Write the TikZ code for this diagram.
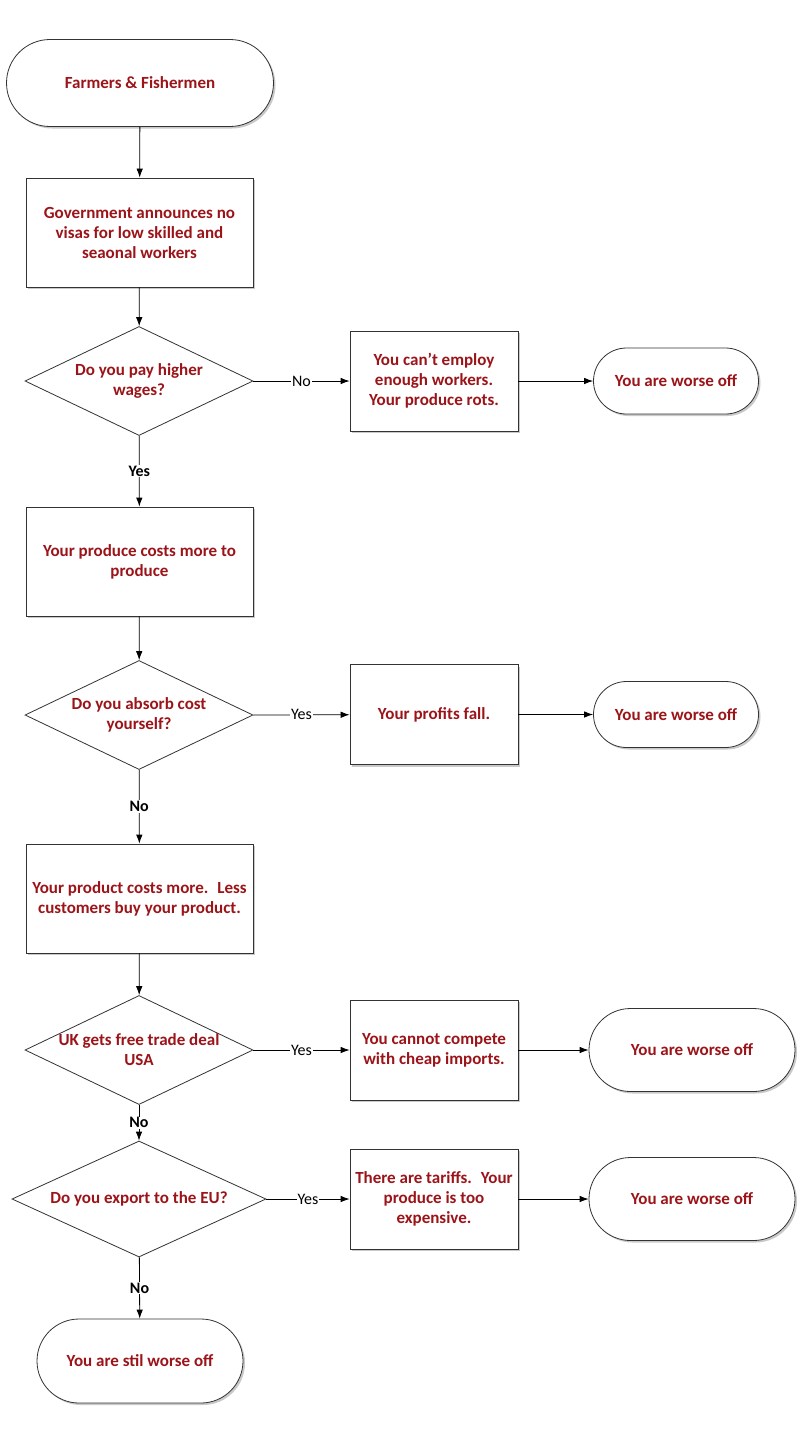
\documentclass[tikz,border=0pt]{standalone}
\usepackage{fontspec}
\setmainfont{Carlito}
\usetikzlibrary{shapes.geometric,shapes.misc,shadows,arrows.meta}
\definecolor{txtred}{RGB}{155,20,25}

\begin{document}
\begin{tikzpicture}[x=1pt, y=-1pt, >={Latex[length=9pt,width=6.5pt]},
    txt/.style={text=txtred, font=\fontsize{17}{20}\selectfont\bfseries, align=center},
    shade/.style={drop shadow={shadow xshift=2pt, shadow yshift=-2pt, opacity=0.35, fill=black!60}},
    boxstep/.style={draw=black!80, line width=0.8pt, fill=white, txt, shade,
        minimum width=227, minimum height=109, inner sep=2pt},
    sidebox/.style={boxstep, minimum width=168, minimum height=100},
    term/.style={rounded rectangle, draw=black!80, line width=0.8pt, fill=white, txt, shade, inner sep=2pt},
    decide/.style={diamond, draw=black!80, line width=0.8pt, fill=white, inner sep=0pt,
        minimum width=228, minimum height=109},
    lbl/.style={fill=white, inner sep=1pt, font=\fontsize{16}{18}\selectfont},
    vlbl/.style={lbl, font=\fontsize{16}{18}\selectfont\bfseries},
    link/.style={->, line width=0.8pt}]

    \path[fill=white] (0,0) rectangle (806,1448);
    \useasboundingbox (0,0) rectangle (806,1448);

    % main column
    \node[term, minimum width=271, minimum height=87] (start) at (140,83) {Farmers \& Fishermen};
    \node[boxstep] (visas) at (139.5,232.5) {Government announces no\\visas for low skilled and\\seaonal workers};
    \node[decide, label={[txt]center:Do you pay higher\\wages?}] (wages) at (139,381) {};
    \node[boxstep] (costs) at (139.5,561.5) {Your produce costs more to\\produce};
    \node[decide, label={[txt]center:Do you absorb cost\\yourself?}] (absorb) at (139,715) {};
    \node[boxstep] (fewer) at (139.5,898.5) {Your product costs more.~ Less\\customers buy your product.};
    \node[decide, label={[txt]center:UK gets free trade deal\\USA}] (usa) at (139,1050) {};
    \node[decide, minimum width=254, minimum height=116,
        label={[txt]center:Do you export to the EU?}] (export) at (139,1199) {};
    \node[term, minimum width=210, minimum height=84] (still) at (140,1361) {You are stil worse off};

    % side outcomes
    \node[sidebox] (rots) at (434,381) {You can’t employ\\enough workers.\\Your produce rots.};
    \node[term, minimum width=169, minimum height=66] (worse1) at (676,381) {You are worse off};
    \node[sidebox] (profits) at (434,714.5) {Your profits fall.};
    \node[term, minimum width=169, minimum height=66] (worse2) at (676,714.5) {You are worse off};
    \node[sidebox] (imports) at (434,1050) {You cannot compete\\with cheap imports.};
    \node[term, minimum width=210, minimum height=83] (worse3) at (692,1050) {You are worse off};
    \node[sidebox] (tariffs) at (434,1199) {There are tariffs.~ Your\\produce is too\\expensive.};
    \node[term, minimum width=210, minimum height=83] (worse4) at (692,1199) {You are worse off};

    % connectors
    \draw[link] (start) -- (visas);
    \draw[link] (visas) -- (wages);
    \draw[link] (wages) -- node[vlbl] {Yes} (costs);
    \draw[link] (costs) -- (absorb);
    \draw[link] (absorb) -- node[vlbl] {No} (fewer);
    \draw[link] (fewer) -- (usa);
    \draw[link] (usa) -- node[vlbl] {No} (export);
    \draw[link] (export) -- node[vlbl] {No} (still);

    \draw[link] (wages.east) -- node[lbl] {No} (rots);
    \draw[link] (rots) -- (worse1);
    \draw[link] (absorb.east) -- node[lbl] {Yes} (profits);
    \draw[link] (profits) -- (worse2);
    \draw[link] (usa.east) -- node[lbl] {Yes} (imports);
    \draw[link] (imports) -- (worse3);
    \draw[link] (export.east) -- node[lbl] {Yes} (tariffs);
    \draw[link] (tariffs) -- (worse4);
\end{tikzpicture}
\end{document}
